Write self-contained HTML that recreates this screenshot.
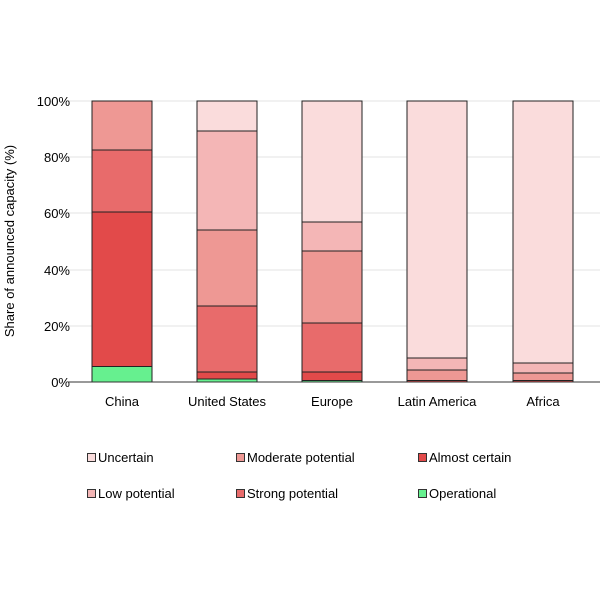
<!DOCTYPE html>
<html><head><style>body{margin:0;background:#fff}</style></head><body>
<svg width="600" height="600" xmlns="http://www.w3.org/2000/svg" font-family="Liberation Sans, Arial, sans-serif" font-size="13">
<g stroke="#e3e3e3" stroke-width="1">
<line x1="68" x2="600" y1="101" y2="101"/><line x1="68" x2="600" y1="157" y2="157"/><line x1="68" x2="600" y1="213" y2="213"/><line x1="68" x2="600" y1="270" y2="270"/><line x1="68" x2="600" y1="326" y2="326"/>
</g>
<g text-anchor="end" fill="#000">
<text x="70" y="106">100%</text><text x="70" y="162">80%</text><text x="70" y="218">60%</text><text x="70" y="275">40%</text><text x="70" y="331">20%</text><text x="70" y="387">0%</text>
</g>
<text transform="translate(14,241) rotate(-90)" text-anchor="middle">Share of announced capacity (%)</text>
<g stroke="#222" stroke-width="1">
<!-- China -->
<rect x="92" y="366.5" width="60" height="15.5" fill="#66f08f"/>
<rect x="92" y="212" width="60" height="154.5" fill="#e24a4a"/>
<rect x="92" y="150" width="60" height="62" fill="#e86b6b"/>
<rect x="92" y="101" width="60" height="49" fill="#ee9894"/>
<!-- US -->
<rect x="197" y="379" width="60" height="3" fill="#66f08f"/>
<rect x="197" y="372" width="60" height="7" fill="#e24a4a"/>
<rect x="197" y="306" width="60" height="66" fill="#e86b6b"/>
<rect x="197" y="230" width="60" height="76" fill="#ee9894"/>
<rect x="197" y="131" width="60" height="99" fill="#f4b6b6"/>
<rect x="197" y="101" width="60" height="30" fill="#fadcdc"/>
<!-- Europe -->
<rect x="302" y="380.5" width="60" height="1.5" fill="#66f08f"/>
<rect x="302" y="372" width="60" height="8.5" fill="#e24a4a"/>
<rect x="302" y="323" width="60" height="49" fill="#e86b6b"/>
<rect x="302" y="251" width="60" height="72" fill="#ee9894"/>
<rect x="302" y="222" width="60" height="29" fill="#f4b6b6"/>
<rect x="302" y="101" width="60" height="121" fill="#fadcdc"/>
<!-- Latin America -->
<rect x="407" y="380.5" width="60" height="1.5" fill="#e24a4a"/>
<rect x="407" y="370" width="60" height="10.5" fill="#ee9894"/>
<rect x="407" y="358" width="60" height="12" fill="#f4b6b6"/>
<rect x="407" y="101" width="60" height="257" fill="#fadcdc"/>
<!-- Africa -->
<rect x="513" y="380.5" width="60" height="1.5" fill="#e24a4a"/>
<rect x="513" y="373" width="60" height="7.5" fill="#ee9894"/>
<rect x="513" y="363" width="60" height="10" fill="#f4b6b6"/>
<rect x="513" y="101" width="60" height="262" fill="#fadcdc"/>
</g>
<line x1="68" x2="600" y1="382" y2="382" stroke="#333" stroke-width="1"/>
<g text-anchor="middle">
<text x="122" y="406">China</text><text x="227" y="406">United States</text><text x="332" y="406">Europe</text><text x="437" y="406">Latin America</text><text x="543" y="406">Africa</text>
</g>
<g stroke="#333" stroke-width="1">
<rect x="87.5" y="453.5" width="8" height="8" fill="#fadcdc"/>
<rect x="236.5" y="453.5" width="8" height="8" fill="#ee9894"/>
<rect x="418.5" y="453.5" width="8" height="8" fill="#e24a4a"/>
<rect x="87.5" y="489.5" width="8" height="8" fill="#f4b6b6"/>
<rect x="236.5" y="489.5" width="8" height="8" fill="#e86b6b"/>
<rect x="418.5" y="489.5" width="8" height="8" fill="#66f08f"/>
</g>
<text x="98" y="462">Uncertain</text>
<text x="247" y="462">Moderate potential</text>
<text x="429" y="462">Almost certain</text>
<text x="98" y="498">Low potential</text>
<text x="247" y="498">Strong potential</text>
<text x="429" y="498">Operational</text>
</svg>
</body></html>
